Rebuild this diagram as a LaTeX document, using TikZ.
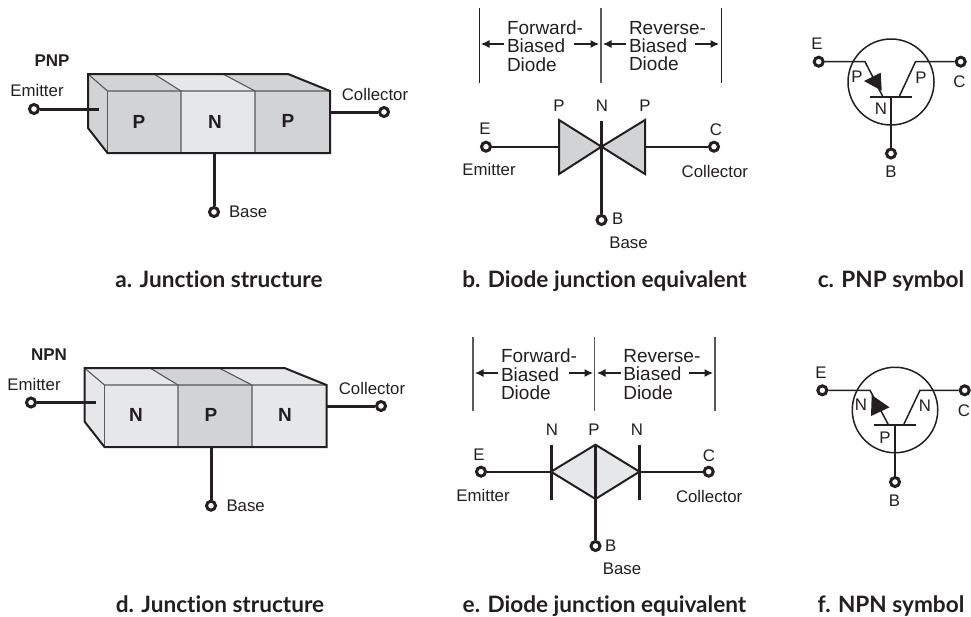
\documentclass[tikz,border=0pt]{standalone}
\usepackage{fontspec}
\setmainfont{Liberation Sans}
\newfontfamily\capfont[Ligatures=NoCommon]{Lato}
\usetikzlibrary{arrows.meta}
\definecolor{ink}{HTML}{231F20}
\definecolor{darkfill}{HTML}{D1D3D4}
\definecolor{lightfill}{HTML}{E6E7E8}
\definecolor{edgegray}{HTML}{58595B}
\tikzset{
  x=1pt,y=-1pt,
  lbl/.style={font=\fontsize{16.8}{16.8}\selectfont,text=ink,inner sep=0pt,outer sep=0pt},
  blk/.style={font=\bfseries\fontsize{17}{17}\selectfont,text=ink,inner sep=0pt},
  big/.style={font=\bfseries\fontsize{19}{19}\selectfont,text=ink,inner sep=0pt},
  stack/.style={lbl,align=left,anchor=west,font=\fontsize{19}{18.3}\selectfont},
  capt/.style={font=\capfont\bfseries\fontsize{22.6}{24}\selectfont,text=ink,inner sep=0pt,anchor=base},
  term/.style={circle,draw=ink,fill=white,line width=3pt,minimum size=9pt,inner sep=0pt},
  wire/.style={draw=ink,line width=2.2pt},
  thick wire/.style={draw=ink,line width=3pt},
  outline/.style={draw=ink,line width=2pt,line join=miter},
  seam/.style={draw=edgegray,line width=1.1pt},
  rule/.style={draw=ink,line width=1pt},
  grayrule/.style={draw=edgegray,line width=1.1pt},
  arr/.style={draw=ink,line width=1.1pt,-{Latex[length=8.5pt,width=8pt]}},
  thin wire/.style={draw=ink,line width=1.5pt},
}
\begin{document}
\begin{tikzpicture}
\useasboundingbox (0,0) rectangle (971,616);
% ---------- a: PNP block
\fill[darkfill] (88,74)--(154,74)--(181,91)--(107.5,91)--(107.5,153)--(88,128)--cycle;
\fill[lightfill] (154,74)--(223,74)--(255,91)--(181,91)--cycle;
\fill[darkfill] (223,74)--(288,74)--(330,91)--(255,91)--cycle;
\fill[darkfill] (107.5,91) rectangle (181,153);
\fill[lightfill] (181,91) rectangle (255,153);
\fill[darkfill] (255,91) rectangle (330,153);
\draw[seam] (154,74)--(181,91)--(181,153) (223,74)--(255,91)--(255,153);
\draw[seam] (88,74)--(107.5,91)--(330,91);
\draw[seam] (107.5,91)--(107.5,153);
\draw[outline] (107.5,153)--(88,128)--(88,74)--(288,74)--(330,91)--(330,153)--cycle;
\node[term] (aE) at (34,109) {};
\node[term] (aC) at (384,112) {};
\node[term] (aB) at (214,212) {};
\coordinate (aEi) at (99,109);
\coordinate (aCi) at (330,112);
\coordinate (aBi) at (214,153);
\draw[thick wire] (aE)--(aEi);
\draw[thick wire] (aCi)--(aC);
\draw[thick wire] (aBi)--(aB);
\node[blk] (aT) at (52,61) {PNP};
\node[lbl] (aEl) at (37,90.5) {Emitter};
\node[lbl] (aCl) at (375,94) {Collector};
\node[lbl,anchor=west] (aBl) at (229,212) {Base};
\node[big] (a1) at (139,122) {P};
\node[big] (a2) at (215,122) {N};
\node[big] (a3) at (288,121) {P};
\node[capt] (aCap) at (219,287.5) {a. Junction structure};
% ---------- b: PNP diodes
\coordinate (b1t) at (479,8); \coordinate (b1b) at (479,83);
\coordinate (b2t) at (601,8); \coordinate (b2b) at (601,83);
\coordinate (b3t) at (721,8); \coordinate (b3b) at (721,83);
\draw[rule] (b1t)--(b1b) (b3t)--(b3b);
\draw[grayrule] (b2t)--(b2b);
\node[stack] (bF) at (507,46) {Forward-\\Biased\\Diode};
\node[stack] (bR) at (629,46) {Reverse-\\Biased\\Diode};
\coordinate (ba1) at (481,44); \coordinate (ba2) at (504,44);
\coordinate (ba3) at (574,44); \coordinate (ba4) at (599,44);
\coordinate (ba5) at (603,44); \coordinate (ba6) at (626,44);
\coordinate (ba7) at (695,44); \coordinate (ba8) at (719,44);
\draw[arr] (ba2)--(ba1);
\draw[arr] (ba3)--(ba4);
\draw[arr] (ba6)--(ba5);
\draw[arr] (ba7)--(ba8);
\node[term] (bE) at (486,146.7) {};
\node[term] (bC) at (714,146.7) {};
\node[term] (bB) at (601.5,220) {};
\coordinate (bT1) at (559,146.7);
\coordinate (bT2) at (645,146.7);
\coordinate (bN) at (601.5,121);
\draw[outline,fill=darkfill] (559,120)--(601.5,146.7)--(559,174)--cycle;
\draw[outline,fill=darkfill] (645,120)--(601.5,146.7)--(645,174)--cycle;
\draw[wire] (bE)--(bT1);
\draw[wire] (bT2)--(bC);
\draw[thick wire] (bN)--(bB);
\node[lbl] at (559,106) {P};
\node[lbl] at (602,106) {N};
\node[lbl] at (645,106) {P};
\node[lbl] at (485,129) {E};
\node[lbl] at (716,130) {C};
\node[lbl] at (489,169) {Emitter};
\node[lbl,anchor=west] at (681.7,171) {Collector};
\node[lbl,anchor=west] at (612,219) {B};
\node[lbl] at (628.5,243) {Base};
\node[capt] (bCap) at (604.5,287.5) {b. Diode junction equivalent};
% ---------- c: PNP symbol
\node[circle,draw=ink,line width=1.5pt,minimum size=86pt,inner sep=0pt] (cO) at (891,82) {};
\node[term] (cE) at (818.7,61.7) {};
\node[term] (cC) at (960.7,61.7) {};
\node[term] (cB) at (891,153.5) {};
\coordinate (cBar) at (891,97);
\draw[thin wire] (cE)--(865,61.7)--(883,97);
\draw[thin wire] (899,97)--(915.5,61.7)--(cC);
\draw[thin wire] (870,97)--(911.5,97);
\draw[thin wire] (cBar)--(cB);
\fill[ink] (881.7,90.7)--(864,81)--(880.7,72.7)--cycle;
\node[lbl] at (817,44) {E};
\node[lbl] at (857,77) {P};
\node[lbl] at (921,78) {P};
\node[lbl] at (881,109) {N};
\node[lbl] at (959.5,82) {C};
\node[lbl] at (891,172) {B};
\node[capt] (cCap) at (891,287.5) {c. PNP symbol};
% ---------- d: NPN block
\fill[lightfill] (84.5,368)--(150,368)--(178,385)--(104.5,385)--(104.5,447)--(84.5,421.5)--cycle;
\fill[darkfill] (150,368)--(219,368)--(252,385)--(178,385)--cycle;
\fill[lightfill] (219,368)--(284.5,368)--(326.5,385)--(252,385)--cycle;
\fill[lightfill] (104.5,385) rectangle (178,447);
\fill[darkfill] (178,385) rectangle (252,447);
\fill[lightfill] (252,385) rectangle (326.5,447);
\draw[seam] (150,368)--(178,385)--(178,447) (219,368)--(252,385)--(252,447);
\draw[seam] (84.5,368)--(104.5,385)--(326.5,385);
\draw[seam] (104.5,385)--(104.5,447);
\draw[outline] (104.5,447)--(84.5,421.5)--(84.5,368)--(284.5,368)--(326.5,385)--(326.5,447)--cycle;
\node[term] (dE) at (31,402.5) {};
\node[term] (dC) at (381,406) {};
\node[term] (dB) at (211,505.7) {};
\coordinate (dEi) at (96,402.5);
\coordinate (dCi) at (326.5,406);
\coordinate (dBi) at (211,447);
\draw[thick wire] (dE)--(dEi);
\draw[thick wire] (dCi)--(dC);
\draw[thick wire] (dBi)--(dB);
\node[blk] at (49,355) {NPN};
\node[lbl] at (34,384.5) {Emitter};
\node[lbl] at (372,388) {Collector};
\node[lbl,anchor=west] at (226.5,506) {Base};
\node[big] at (136,415) {N};
\node[big] at (211,415) {P};
\node[big] at (285,415) {N};
\node[capt] (dCap) at (220,612.5) {d. Junction structure};
% ---------- e: NPN diodes
\coordinate (e1t) at (473,337); \coordinate (e1b) at (473,411);
\coordinate (e2t) at (594.7,337); \coordinate (e2b) at (594.7,411);
\coordinate (e3t) at (715,337); \coordinate (e3b) at (715,411);
\draw[grayrule] (e1t)--(e1b) (e2t)--(e2b) (e3t)--(e3b);
\node[stack] at (501,374.5) {Forward-\\Biased\\Diode};
\node[stack] at (623.3,374.5) {Reverse-\\Biased\\Diode};
\coordinate (ea1) at (475,373); \coordinate (ea2) at (498,373);
\coordinate (ea3) at (569,373); \coordinate (ea4) at (593,373);
\coordinate (ea5) at (597,373); \coordinate (ea6) at (621,373);
\coordinate (ea7) at (689,373); \coordinate (ea8) at (713,373);
\draw[arr] (ea2)--(ea1);
\draw[arr] (ea3)--(ea4);
\draw[arr] (ea6)--(ea5);
\draw[arr] (ea7)--(ea8);
\node[term] (eE) at (481,471.7) {};
\node[term] (eC) at (708.7,471.7) {};
\node[term] (eB) at (595.5,546) {};
\coordinate (eL) at (551,471.7);
\coordinate (eR) at (639.5,471.7);
\coordinate (eT) at (595.5,444.7);
\coordinate (eD) at (595.5,499);
\draw[outline,fill=lightfill] (eL)--(eT)--(eR)--(eD)--cycle;
\draw[wire] (eE)--(eL);
\draw[wire] (eR)--(eC);
\draw[thick wire] (551,445)--(551,499.7);
\draw[thick wire] (639.5,445)--(639.5,499.7);
\draw[thick wire] (eT)--(eB);
\node[lbl] at (552,430) {N};
\node[lbl] at (594,430) {P};
\node[lbl] at (637,430) {N};
\node[lbl] at (479,455) {E};
\node[lbl] at (709,456) {C};
\node[lbl] at (483,495) {Emitter};
\node[lbl,anchor=west] at (676,496) {Collector};
\node[lbl,anchor=west] at (605,545.5) {B};
\node[lbl] at (622,569) {Base};
\node[capt] (eCap) at (604.5,612.5) {e. Diode junction equivalent};
% ---------- f: NPN symbol
\node[circle,draw=ink,line width=1.5pt,minimum size=85.5pt,inner sep=0pt] (fO) at (895,410) {};
\node[term] (fE) at (822.3,390.3) {};
\node[term] (fC) at (964.7,390.3) {};
\node[term] (fB) at (895,482) {};
\coordinate (fBar) at (895,425);
\draw[thin wire] (fE)--(870,390.3)--(888.5,425);
\draw[thin wire] (903.5,425)--(920,390.3)--(fC);
\draw[thin wire] (874,425)--(916,425);
\draw[thin wire] (fBar)--(fB);
\fill[ink] (871.7,395)--(871,416)--(889.5,407.3)--cycle;
\node[lbl] at (821,373) {E};
\node[lbl] at (861,405) {N};
\node[lbl] at (925,406) {N};
\node[lbl] at (885,438) {P};
\node[lbl] at (964,410.5) {C};
\node[lbl] at (894.5,501) {B};
\node[capt] (fCap) at (891,612.5) {f. NPN symbol};
\end{tikzpicture}
\end{document}
